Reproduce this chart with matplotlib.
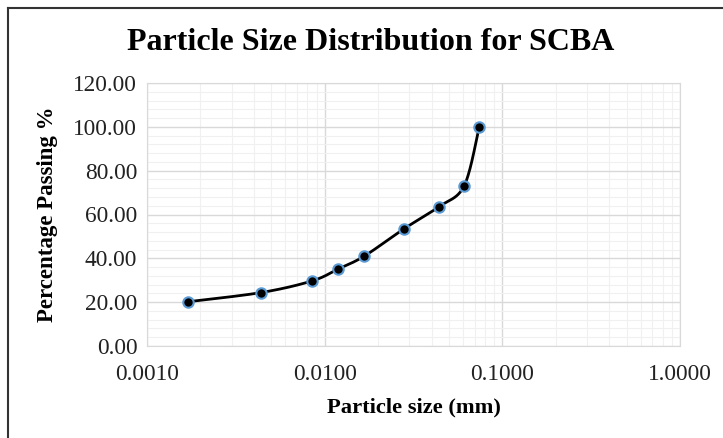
import numpy as np
import matplotlib
matplotlib.use("Agg")
import matplotlib.pyplot as plt
from matplotlib.lines import Line2D
from matplotlib.ticker import FixedLocator, MultipleLocator, FuncFormatter

# data
particle_size = [0.0017, 0.0044, 0.0085, 0.0119, 0.0167, 0.0280, 0.0439, 0.0609, 0.0740]
passing = [20.2, 24.4, 29.7, 35.1, 41.0, 53.5, 63.5, 73.0, 99.7]
x_ticks = [0.001, 0.01, 0.1, 1.0]
y_ticks = [0, 20, 40, 60, 80, 100, 120]

plt.rcParams['font.family'] = ['Liberation Serif', 'DejaVu Serif']


def smooth_curve(xs, ys, sx=177.8, sy=2.2, n=30):
    # Excel-style smoothed line: cubic Bezier through the points in screen-like space
    u = np.log10(xs) * sx
    v = np.asarray(ys) * sy
    pts = np.column_stack([u, v])
    out = []
    for i in range(len(pts) - 1):
        p0 = pts[max(i - 1, 0)]
        p1 = pts[i]
        p2 = pts[i + 1]
        p3 = pts[min(i + 2, len(pts) - 1)]
        c1 = p1 + (p2 - p0) / 6
        c2 = p2 - (p3 - p1) / 6
        t = np.linspace(0, 1, n)[:, None]
        seg = ((1 - t) ** 3 * p1 + 3 * (1 - t) ** 2 * t * c1
               + 3 * (1 - t) * t ** 2 * c2 + t ** 3 * p2)
        out.append(seg if i == 0 else seg[1:])
    seg = np.vstack(out)
    return 10 ** (seg[:, 0] / sx), seg[:, 1] / sy


fig = plt.figure(figsize=(7.23, 4.38), dpi=100)
ax = fig.add_axes([147 / 723, 92 / 438, 533 / 723, 263 / 438])

ax.set_xscale('log')
ax.set_xlim(0.001, 1.0)
ax.set_ylim(0, 120)

ax.xaxis.set_major_locator(FixedLocator(x_ticks))
ax.xaxis.set_minor_locator(FixedLocator(
    [m * 10.0 ** e for e in (-3, -2, -1) for m in range(2, 10)]))
ax.xaxis.set_major_formatter(FuncFormatter(lambda v, p: f'{v:.4f}'))
ax.xaxis.set_minor_formatter(FuncFormatter(lambda v, p: ''))
ax.yaxis.set_major_locator(FixedLocator(y_ticks))
ax.yaxis.set_minor_locator(MultipleLocator(4))
ax.yaxis.set_major_formatter(FuncFormatter(lambda v, p: f'{v:.2f}'))

ax.grid(True, which='major', color='#d9d9d9', linewidth=1.0)
ax.grid(True, which='minor', color='#f0f0f0', linewidth=0.8)
ax.set_axisbelow(True)
ax.tick_params(which='both', length=0, labelsize=16.8, colors='#222222')
ax.tick_params(axis='x', pad=13)
ax.tick_params(axis='y', pad=7)
for side in ax.spines.values():
    side.set_color('#d9d9d9')

sx, sy = smooth_curve(particle_size, passing)
ax.plot(sx, sy, color='black', linewidth=2.0, zorder=3)
ax.plot(particle_size, passing, linestyle='none', marker='o', markersize=7.5,
        markerfacecolor='black', markeredgecolor='#5b9bd5', markeredgewidth=1.5,
        zorder=4)

fig.text(371 / 723, 1 - 42 / 438, 'Particle Size Distribution for SCBA',
         ha='center', va='center', fontsize=23, fontweight='bold')
ax.set_xlabel('Particle size (mm)', fontsize=16.2, fontweight='bold', labelpad=9)
ax.set_ylabel('Percentage Passing %', fontsize=16.5, fontweight='bold', labelpad=11)

# chart area frame (top and left edges visible in the crop)
fig.add_artist(Line2D([8 / 723, 1.0], [1 - 8 / 438, 1 - 8 / 438],
                      transform=fig.transFigure, color='#333333', linewidth=1.5))
fig.add_artist(Line2D([8 / 723, 8 / 723], [0.0, 1 - 8 / 438],
                      transform=fig.transFigure, color='#333333', linewidth=1.5))

fig.savefig('out.png', dpi=100)
